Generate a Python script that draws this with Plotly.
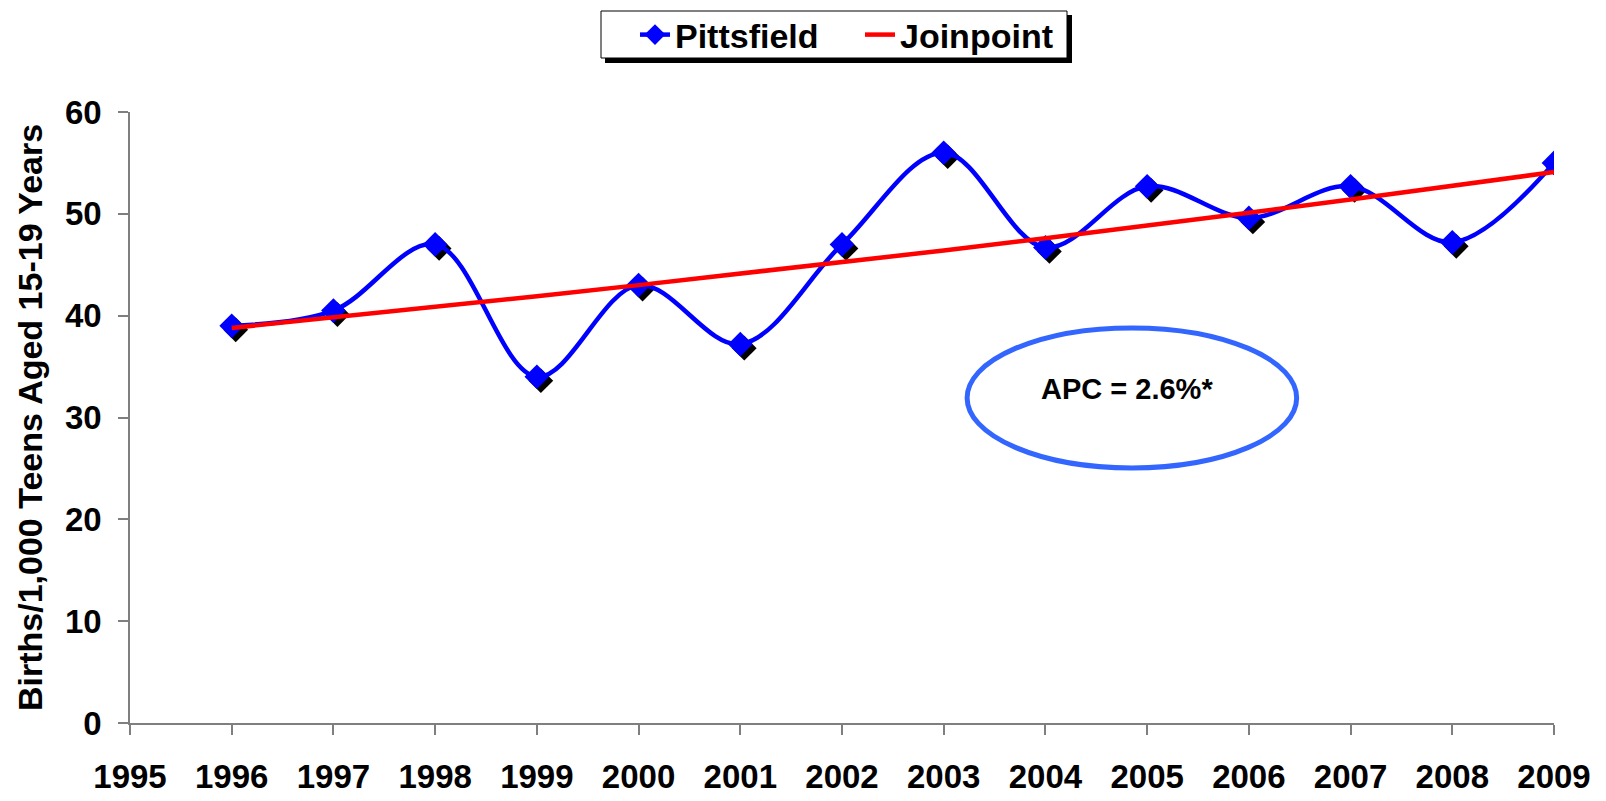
import plotly.graph_objects as go

# ---- data ----
years = [1996, 1997, 1998, 1999, 2000, 2001, 2002, 2003, 2004, 2005, 2006, 2007, 2008, 2009]
pittsfield = [39.0, 40.5, 47.0, 34.0, 43.0, 37.2, 47.0, 56.0, 46.7, 52.7, 49.6, 52.7, 47.2, 55.0]
joinpoint = [38.8, 39.8, 40.8, 41.9, 43.0, 44.1, 45.2, 46.4, 47.6, 48.8, 50.1, 51.4, 52.7, 54.1]
tick_years = [1995, 1996, 1997, 1998, 1999, 2000, 2001, 2002, 2003, 2004, 2005, 2006, 2007, 2008, 2009]
y_ticks = [0, 10, 20, 30, 40, 50, 60]
y_title = "Births/1,000 Teens Aged 15-19 Years"
apc_label = "APC = 2.6%*"

# ---- style / geometry ----
FONT = "Liberation Sans, Arial, sans-serif"
X_RANGE = [1995, 2009]
Y_RANGE = [0, 60]
FIG_W, FIG_H = 1606, 801
PLOT_L, PLOT_R, PLOT_T, PLOT_B = 130, 1554, 112, 723   # page pixels of plot area
PW, PH = PLOT_R - PLOT_L, PLOT_B - PLOT_T
PX_PER_YEAR = PW / 14
PX_PER_UNIT = PH / 60
SHADOW_PX = 4
dx = SHADOW_PX / PX_PER_YEAR
dy = SHADOW_PX / PX_PER_UNIT
AXIS_COLOR = "#7F7F7F"


def px_x(p):
    return (p - PLOT_L) / PW


def px_y(p):
    return (PLOT_B - p) / PH


fig = go.Figure()

# shadow of markers (on hidden, shifted base axes)
fig.add_trace(go.Scatter(
    x=years, y=pittsfield, mode="markers", showlegend=False, hoverinfo="skip",
    marker=dict(symbol="diamond", size=19, color="black"),
    xaxis="x", yaxis="y"))

fig.add_trace(go.Scatter(
    x=years, y=pittsfield, mode="lines+markers", name="Pittsfield",
    line=dict(color="#0000FF", width=4.5, shape="spline", smoothing=1.0),
    marker=dict(symbol="diamond", size=19, color="#0000FF"),
    xaxis="x2", yaxis="y2"))

fig.add_trace(go.Scatter(
    x=years, y=joinpoint, mode="lines", name="Joinpoint",
    line=dict(color="#FF0000", width=4.5),
    xaxis="x2", yaxis="y2"))

fig.update_layout(
    width=FIG_W, height=FIG_H,
    margin=dict(l=PLOT_L, r=FIG_W - PLOT_R, t=PLOT_T, b=FIG_H - PLOT_B, autoexpand=False),
    paper_bgcolor="white", plot_bgcolor="white",
    font=dict(family=FONT, color="black"),
    showlegend=True,
    xaxis=dict(range=[X_RANGE[0] - dx, X_RANGE[1] - dx], visible=False, fixedrange=True),
    yaxis=dict(range=[Y_RANGE[0] + dy, Y_RANGE[1] + dy], visible=False, fixedrange=True),
    xaxis2=dict(
        overlaying="x", anchor="y2", range=X_RANGE,
        tickmode="array", tickvals=tick_years, ticktext=[str(t) for t in tick_years],
        ticks="outside", ticklen=10, tickwidth=1.5, tickcolor=AXIS_COLOR,
        showline=True, linecolor=AXIS_COLOR, linewidth=1.5,
        showgrid=False, zeroline=False,
        tickfont=dict(family=FONT, size=33, weight="bold", color="black"),
        ticklabelstandoff=14,
    ),
    yaxis2=dict(
        overlaying="y", anchor="x2", range=Y_RANGE,
        tickmode="array", tickvals=y_ticks,
        ticks="outside", ticklen=10, tickwidth=1.5, tickcolor=AXIS_COLOR,
        showline=True, linecolor=AXIS_COLOR, linewidth=1.5,
        showgrid=False, zeroline=False,
        tickfont=dict(family=FONT, size=33, weight="bold", color="black"),
        ticklabelstandoff=10,
    ),
    legend=dict(
        orientation="h", x=px_x(635), xanchor="left", y=px_y(35), yanchor="middle",
        bgcolor="rgba(0,0,0,0)", borderwidth=0,
        font=dict(family=FONT, size=34, weight="bold", color="black"),
        itemwidth=30, entrywidth=180,
    ),
)

# y-axis title (rotated text placed beside the axis)
fig.add_annotation(x=px_x(30), y=px_y(418), xref="paper", yref="paper",
                   text=y_title, textangle=-90, showarrow=False,
                   xanchor="center", yanchor="middle",
                   font=dict(family=FONT, size=34, weight="bold", color="black"))

# legend box with drop shadow
fig.add_shape(type="rect", xref="paper", yref="paper",
              x0=px_x(605), x1=px_x(1072), y0=px_y(63), y1=px_y(15),
              fillcolor="black", line=dict(width=0), layer="above")
fig.add_shape(type="rect", xref="paper", yref="paper",
              x0=px_x(601), x1=px_x(1067), y0=px_y(58), y1=px_y(11),
              fillcolor="white", line=dict(color="black", width=1), layer="above")

# APC ellipse + label
fig.add_shape(type="circle", xref="x2", yref="y2",
              x0=2003.23, x1=2006.47, y0=25.05, y1=38.8,
              line=dict(color="#3366FF", width=5), fillcolor="rgba(0,0,0,0)")
fig.add_annotation(x=2004.80, y=32.8, xref="x2", yref="y2", text=apc_label,
                   showarrow=False,
                   font=dict(family=FONT, size=29, weight="bold", color="black"))

fig.write_html("out.html", config={"displayModeBar": False},
               post_script="document.body.style.margin='0';")
